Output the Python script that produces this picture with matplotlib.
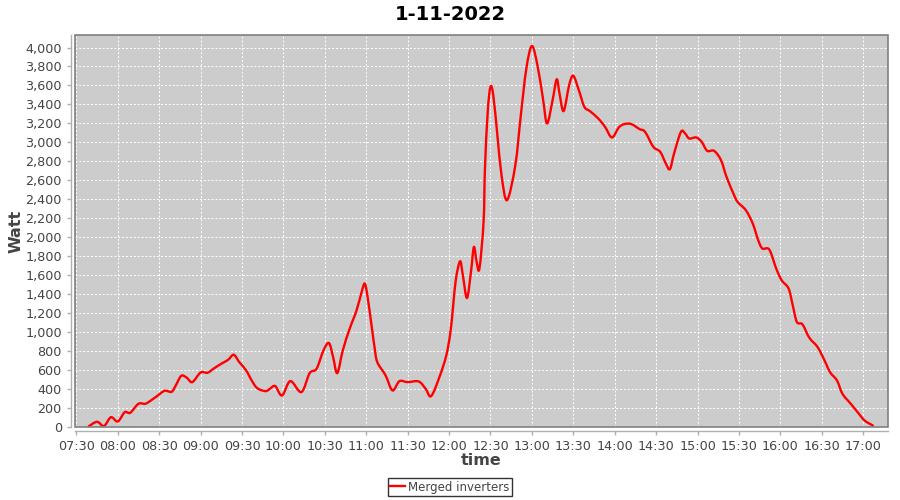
import numpy as np
import matplotlib.pyplot as plt
from matplotlib.patches import Rectangle, PathPatch
from matplotlib.path import Path
from matplotlib.lines import Line2D
from matplotlib.ticker import FuncFormatter, MultipleLocator

# readings: time of day (hh:mm) and merged inverter output in watt
times = ['07:39', '07:45', '07:50', '07:55', '08:00', '08:05', '08:09', '08:15',
         '08:20', '08:25', '08:29', '08:34', '08:39', '08:42', '08:46', '08:50',
         '08:54', '09:00', '09:05', '09:10', '09:15', '09:20', '09:24', '09:28',
         '09:33', '09:37', '09:41', '09:47', '09:50', '09:54', '09:59', '10:05',
         '10:13', '10:19', '10:24', '10:29', '10:33', '10:36', '10:39', '10:43',
         '10:48', '10:53', '10:57', '10:59', '11:01', '11:04', '11:06', '11:08',
         '11:14', '11:19', '11:24', '11:30', '11:38', '11:43', '11:47', '11:53',
         '11:58', '12:01', '12:03', '12:05', '12:08', '12:10', '12:13', '12:16',
         '12:18', '12:20', '12:22', '12:25', '12:26', '12:28', '12:30', '12:32',
         '12:35', '12:38', '12:42', '12:48', '12:52', '12:56', '13:00', '13:04',
         '13:08', '13:11', '13:15', '13:18', '13:20', '13:23', '13:27', '13:30',
         '13:34', '13:38', '13:42', '13:48', '13:53', '13:58', '14:03', '14:07',
         '14:12', '14:18', '14:22', '14:28', '14:33', '14:37', '14:40', '14:43',
         '14:48', '14:51', '14:54', '14:59', '15:03', '15:07', '15:12', '15:17',
         '15:21', '15:26', '15:29', '15:35', '15:40', '15:44', '15:47', '15:52',
         '15:57', '16:01', '16:06', '16:09', '16:12', '16:16', '16:21', '16:27',
         '16:32', '16:36', '16:41', '16:45', '16:51', '16:56', '17:01', '17:07']
watt = [8, 55, 10, 103, 58, 156, 150, 245,
        245, 290, 332, 382, 371, 438, 540, 519,
        473, 575, 572, 621, 667, 709, 762, 684,
        596, 491, 410, 378, 400, 432, 332, 484,
        368, 568, 614, 807, 885, 737, 568, 807,
        1036, 1230, 1441, 1511, 1370, 1053, 842, 684,
        544, 385, 483, 473, 480, 403, 325, 526,
        755, 1001, 1282, 1564, 1747, 1599, 1360, 1652,
        1898, 1739, 1670, 2162, 2725, 3322, 3586, 3499,
        3077, 2654, 2391, 2760, 3288, 3780, 4016, 3815,
        3464, 3200, 3446, 3665, 3517, 3330, 3604, 3702,
        3551, 3375, 3330, 3253, 3164, 3052, 3158, 3193,
        3193, 3140, 3111, 2953, 2900, 2778, 2718, 2883,
        3111, 3094, 3041, 3052, 3006, 2911, 2911, 2813,
        2637, 2461, 2373, 2285, 2145, 1968, 1881, 1870,
        1670, 1546, 1459, 1282, 1106, 1082, 941, 842,
        702, 578, 491, 350, 245, 156, 69, 16]

LINE_COLOR = '#ff0000'


def to_min(t):
    h, m = t.split(':')
    return int(h) * 60 + int(m)


def spline_path(xs, ys):
    # smooth curve through the readings, drawn as cubic bezier segments
    pts = np.column_stack([xs, ys])
    padded = np.vstack([pts[0], pts, pts[-1]])
    verts = [pts[0]]
    codes = [Path.MOVETO]
    for i in range(len(pts) - 1):
        p0, p1, p2, p3 = padded[i], padded[i + 1], padded[i + 2], padded[i + 3]
        verts += [p1 + (p2 - p0) / 6, p2 - (p3 - p1) / 6, p2]
        codes += [Path.CURVE4] * 3
    return Path(verts, codes)


x = np.array([to_min(t) for t in times], dtype=float)
y = np.array(watt, dtype=float)

fig = plt.figure(figsize=(9, 5), dpi=100)
ax = fig.add_axes([75 / 900, 1 - 427 / 500, 813 / 900, 392 / 500])
ax.set_facecolor('#cccccc')

ax.add_patch(PathPatch(spline_path(x, y), fill=False, ec=LINE_COLOR, lw=1.7,
                       joinstyle='round', capstyle='round', zorder=3))

ax.set_xlim(to_min('07:29'), to_min('17:18'))
ax.set_ylim(0, 4132)

ax.xaxis.set_major_locator(MultipleLocator(30))
ax.xaxis.set_major_formatter(FuncFormatter(lambda v, p: f'{int(v) // 60:02d}:{int(v) % 60:02d}'))
ax.yaxis.set_major_locator(MultipleLocator(200))
ax.yaxis.set_major_formatter(FuncFormatter(lambda v, p: f'{int(v):,}'))

ax.grid(True, color='white', ls=(0, (2, 2)), lw=0.7)
ax.set_axisbelow(True)

for s in ['top', 'right']:
    ax.spines[s].set_visible(False)
for s in ['left', 'bottom']:
    ax.spines[s].set_position(('outward', 3))
    ax.spines[s].set_color('#b0b0b0')
    ax.spines[s].set_linewidth(1)
ax.add_patch(Rectangle((0, 0), 1, 1, transform=ax.transAxes, fill=False,
                       ec='#808080', lw=1.2, zorder=4, clip_on=False))

ax.tick_params(axis='both', colors='#b0b0b0', labelcolor='#444444',
               labelsize=9.2, length=3, width=1)

ax.set_xlabel('time', fontsize=11.5, fontweight='bold', color='#444444')
ax.set_ylabel('Watt', fontsize=11.5, fontweight='bold', color='#444444')
ax.xaxis.set_label_coords(0.5, -0.066)
ax.yaxis.set_label_coords(-0.063, 0.5)
fig.suptitle('1-11-2022', fontsize=14, fontweight='bold', y=0.99)

handle = Line2D([], [], color=LINE_COLOR, lw=1.7)
leg = fig.legend([handle], ['Merged inverters'], loc='center',
                 bbox_to_anchor=(450 / 900, 1 - 487 / 500),
                 frameon=True, fancybox=False, fontsize=8.5, handlelength=1.2,
                 borderpad=0.25, handletextpad=0.3, borderaxespad=0)
leg.get_frame().set_edgecolor('black')
leg.get_frame().set_linewidth(1)
for t in leg.get_texts():
    t.set_color('#444444')

fig.savefig('out.png', dpi=100)
